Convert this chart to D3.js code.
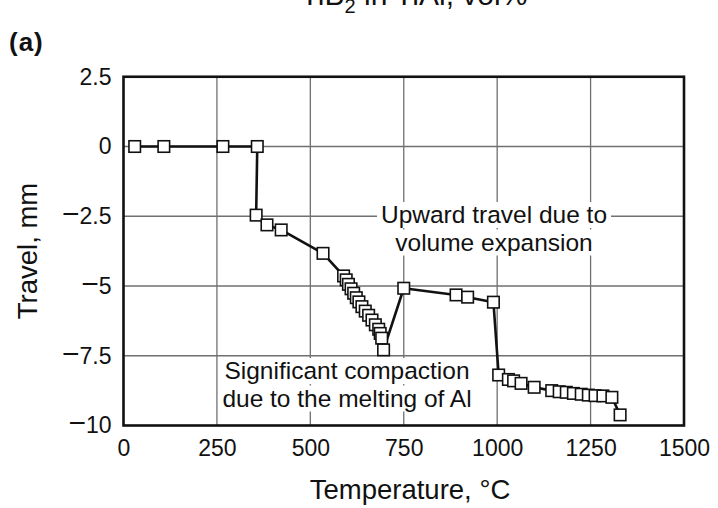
<!DOCTYPE html>
<html>
<head>
<meta charset="utf-8">
<script src="https://cdn.jsdelivr.net/npm/d3@7"></script>
<style>
  html, body { margin: 0; padding: 0; background: #fff; }
  svg { display: block; font-family: "Liberation Sans", Arial, Helvetica, sans-serif; }
</style>
</head>
<body>
<svg id="chart" width="718" height="508"></svg>
<script>
// ---- data ----
const temperature = [30, 108, 266, 358, 355, 384, 422, 534,
  589, 596, 602, 609, 616, 623, 630, 638, 647, 656, 665, 674, 683, 687, 691, 696,
  750, 890, 921, 990,
  1004, 1030, 1044, 1064, 1099, 1146, 1166, 1185, 1204, 1225, 1244, 1262, 1283, 1307, 1329];
const travel = [0, 0, 0, 0, -2.46, -2.81, -2.99, -3.83,
  -4.64, -4.78, -4.94, -5.10, -5.26, -5.42, -5.57, -5.74, -5.90, -6.05, -6.22, -6.39, -6.55, -6.70, -6.87, -7.29,
  -5.08, -5.32, -5.40, -5.58,
  -8.19, -8.35, -8.40, -8.49, -8.63, -8.75, -8.79, -8.81, -8.85, -8.88, -8.91, -8.93, -8.94, -8.99, -9.62];
const xTicks = [0, 250, 500, 750, 1000, 1250, 1500];
const yTicks = [2.5, 0, -2.5, -5, -7.5, -10];
const yTickLabels = ["2.5", "0", "\u22122.5", "\u22125", "\u22127.5", "\u221210"];
const xTitle = "Temperature, \u00B0C";
const yTitle = "Travel, mm";
const annotUp = ["Upward travel due to", "volume expansion"];
const annotDown = ["Significant compaction", "due to the melting of Al"];

const svg = d3.select("#chart");
const x = d3.scaleLinear().domain([0, 1500]).range([123.5, 684]);
const y = d3.scaleLinear().domain([-10, 2.5]).range([425.5, 76.75]);

// title (cut off at the top in the reference)
const title = svg.append("text").attr("x", 414).attr("y", 5).attr("text-anchor", "middle")
  .attr("font-size", 30).attr("fill", "#111");
title.append("tspan").text("TiB");
title.append("tspan").attr("font-size", 20).attr("dy", 8).text("2");
title.append("tspan").attr("dy", -8).text(" in TiAl, vol%");

svg.append("text").attr("x", 9).attr("y", 51).attr("font-size", 26).attr("font-weight", "bold")
  .attr("letter-spacing", 1).attr("fill", "#111").text("(a)");

// grid
const grid = svg.append("g").attr("stroke", "#707070").attr("stroke-width", 1.3);
grid.selectAll("line.v").data(xTicks.slice(1, -1)).join("line")
  .attr("x1", d => x(d)).attr("x2", d => x(d)).attr("y1", y(2.5)).attr("y2", y(-10));
grid.selectAll("line.h").data(yTicks.slice(1, -1)).join("line")
  .attr("x1", x(0)).attr("x2", x(1500)).attr("y1", d => y(d)).attr("y2", d => y(d));

// annotations with white background
function annot(lines, cx, y0, dy) {
  const g = svg.append("g");
  lines.forEach((t, i) => {
    const tx = g.append("text").attr("x", cx).attr("y", y0 + i * dy).attr("text-anchor", "middle")
      .attr("font-size", 24.5).attr("fill", "#111").text(t);
    const bb = tx.node().getBBox();
    g.insert("rect", "text").attr("x", bb.x - 4).attr("y", bb.y + 1).attr("width", bb.width + 8)
      .attr("height", bb.height - 1).attr("fill", "#fff");
  });
}
annot(annotUp, 494, 223, 27.5);
annot(annotDown, 347, 379, 27.5);

// frame
svg.append("rect").attr("x", x(0)).attr("y", y(2.5)).attr("width", x(1500) - x(0))
  .attr("height", y(-10) - y(2.5)).attr("fill", "none").attr("stroke", "#111").attr("stroke-width", 2.6);

// axes tick labels
const yAxis = d3.axisLeft(y).tickValues(yTicks).tickSize(0).tickPadding(12)
  .tickFormat((d, i) => yTickLabels[i]);
const ya = svg.append("g").attr("transform", `translate(${x(0)},0)`).call(yAxis);
ya.select(".domain").remove();
ya.selectAll("text").attr("font-size", 23).attr("fill", "#111").attr("font-family", "Liberation Sans, Arial, sans-serif")
  .each(function () {
    const t = d3.select(this);
    const str = t.text();
    if (str.startsWith("\u2212")) {
      t.text(null);
      t.append("tspan").attr("font-size", 30).text("\u2212");
      t.append("tspan").text(str.slice(1));
    }
  });

const xAxis = d3.axisBottom(x).tickValues(xTicks).tickSize(0).tickPadding(14).tickFormat(d3.format("d"));
const xa = svg.append("g").attr("transform", `translate(0,${y(-10)})`).call(xAxis);
xa.select(".domain").remove();
xa.selectAll("text").attr("font-size", 23).attr("fill", "#111").attr("font-family", "Liberation Sans, Arial, sans-serif");

// axis titles
svg.append("text").attr("x", 410).attr("y", 499).attr("text-anchor", "middle")
  .attr("font-size", 27.5).attr("fill", "#111").text(xTitle);
svg.append("text").attr("transform", "translate(37,251) rotate(-90)").attr("text-anchor", "middle")
  .attr("font-size", 27.5).attr("fill", "#111").text(yTitle);

// series
const pts = temperature.map((t, i) => [t, travel[i]]);
svg.append("path").datum(pts)
  .attr("d", d3.line().x(d => x(d[0])).y(d => y(d[1])))
  .attr("fill", "none").attr("stroke", "#111").attr("stroke-width", 2.6).attr("stroke-linejoin", "round");
const s = 11.5;
svg.append("g").selectAll("rect").data(pts).join("rect")
  .attr("x", d => x(d[0]) - s / 2).attr("y", d => y(d[1]) - s / 2)
  .attr("width", s).attr("height", s)
  .attr("fill", "#fff").attr("stroke", "#111").attr("stroke-width", 1.6);
</script>
</body>
</html>
